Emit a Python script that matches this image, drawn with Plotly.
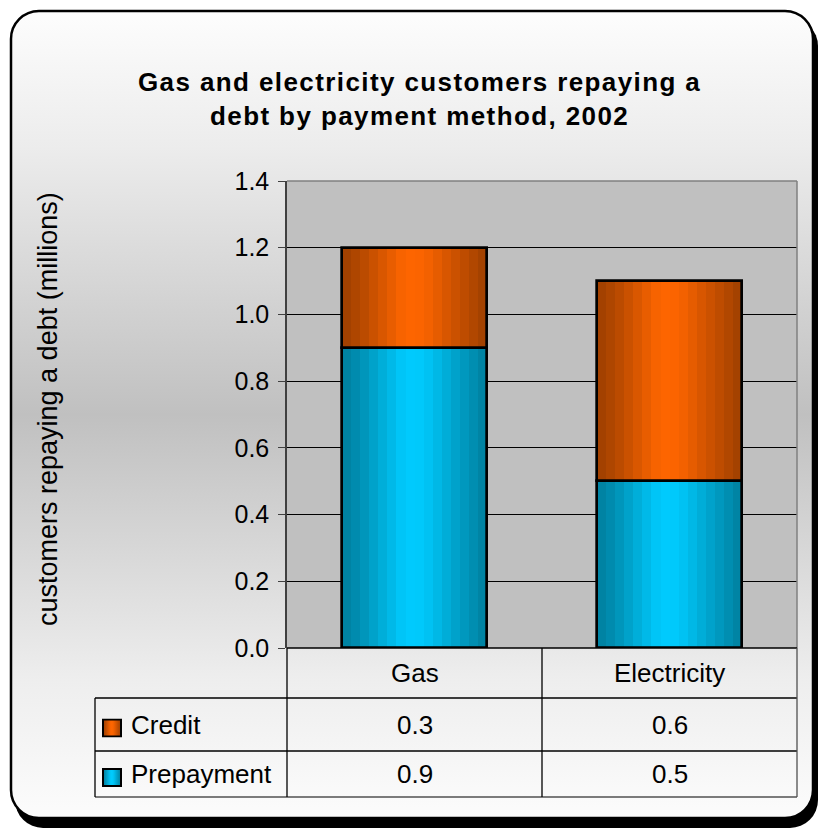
import base64
import plotly.graph_objects as go

# ---- data -------------------------------------------------------------
categories = ["Gas", "Electricity"]
prepayment = [0.9, 0.5]
credit = [0.3, 0.6]
y_ticks = [0.0, 0.2, 0.4, 0.6, 0.8, 1.0, 1.2, 1.4]

TITLE_LINES = ["Gas and electricity customers repaying a", "debt by payment method, 2002"]
Y_TITLE = "customers repaying a debt (millions)"

# ---- page geometry (pixels) -----------------------------------------
W, H = 819, 829
PLOT_L, PLOT_R, PLOT_T, PLOT_B = 287, 797, 181, 648
FONT = "Liberation Sans, Arial, sans-serif"


def xp(px):
    return (px - PLOT_L) / (PLOT_R - PLOT_L)


def yp(py):
    return (PLOT_B - py) / (PLOT_B - PLOT_T)


# horizontal cylinder-like shading across each bar: (position, brightness)
SHADE = [(0.0, 0.62), (0.12, 0.70), (0.28, 0.85), (0.42, 0.98), (0.5, 1.0),
         (0.6, 0.95), (0.75, 0.82), (0.9, 0.70), (1.0, 0.62)]
ORANGE = (255, 102, 0)
BLUE = (0, 204, 255)
N_STRIPS = 16
BAR_W = 0.565


def shade(t):
    for (t0, f0), (t1, f1) in zip(SHADE[:-1], SHADE[1:]):
        if t0 <= t <= t1:
            return f0 + (f1 - f0) * (t - t0) / (t1 - t0)
    return SHADE[-1][1]


def tone(rgb, f):
    return "rgb(%d,%d,%d)" % tuple(round(c * f) for c in rgb)


def svg_uri(svg):
    return "data:image/svg+xml;base64," + base64.b64encode(svg.encode()).decode()


fig = go.Figure()

series = [
    ("Prepayment", prepayment, [0.0] * len(prepayment), BLUE),
    ("Credit", credit, prepayment, ORANGE),
]

for name, vals, base, rgb in series:
    step = BAR_W / N_STRIPS
    for k in range(N_STRIPS):
        t = (k + 0.5) / N_STRIPS
        fig.add_trace(go.Bar(
            x=categories, y=vals, base=base,
            width=step * 1.1, offset=-BAR_W / 2 + k * step,
            marker=dict(color=tone(rgb, shade(t)), line=dict(width=0)),
            showlegend=False, hoverinfo="skip",
        ))
    # outline of the whole segment
    fig.add_trace(go.Bar(
        x=categories, y=vals, base=base,
        width=BAR_W, offset=-BAR_W / 2,
        marker=dict(color="rgba(0,0,0,0)", line=dict(color="black", width=2.7)),
        name=name, showlegend=False,
        hovertemplate=name + ": %{y:.1f}<extra></extra>",
    ))

# ---- background: rounded panel with vertical grey gradient and shadow --
bg_svg = f"""<svg xmlns="http://www.w3.org/2000/svg" width="{W}" height="{H}" viewBox="0 0 {W} {H}">
<defs><linearGradient id="g" x1="0" y1="0" x2="0" y2="1">
<stop offset="0" stop-color="#FDFDFD"/><stop offset="0.17" stop-color="#ECECEC"/>
<stop offset="0.5" stop-color="#C0C0C0"/><stop offset="0.83" stop-color="#EEEEEE"/>
<stop offset="1" stop-color="#FCFCFC"/></linearGradient></defs>
<rect x="15" y="18" width="803" height="810" rx="28" ry="28" fill="#000"/>
<rect x="11" y="11" width="802" height="807" rx="28" ry="28" fill="url(#g)" stroke="#000" stroke-width="2.5"/>
</svg>"""

images = [dict(
    source=svg_uri(bg_svg), xref="paper", yref="paper",
    x=xp(0), y=yp(0), sizex=W / (PLOT_R - PLOT_L), sizey=H / (PLOT_B - PLOT_T),
    xanchor="left", yanchor="top", sizing="stretch", layer="below",
)]


def key_svg(rgb):
    stops = "".join(
        f'<stop offset="{t}" stop-color="{tone(rgb, f)}"/>' for t, f in SHADE
    )
    return (f'<svg xmlns="http://www.w3.org/2000/svg" width="20" height="19" viewBox="0 0 20 19">'
            f'<defs><linearGradient id="k" x1="0" y1="0" x2="1" y2="0">{stops}</linearGradient></defs>'
            f'<rect x="1" y="1" width="18" height="17" fill="url(#k)" stroke="#000" stroke-width="2"/></svg>')


# ---- data table below the plot ----------------------------------------
COL_X = [287, 542, 797]
ROW_Y = [648, 698, 751, 797]
TABLE_L = 95
rows = [("Credit", credit, ORANGE), ("Prepayment", prepayment, BLUE)]

shapes = [
    # plot area fill
    dict(type="rect", xref="paper", yref="paper", x0=0, x1=1, y0=0, y1=1,
         fillcolor="#C0C0C0", line=dict(width=0), layer="below"),
    # plot area top / right border
    dict(type="line", xref="paper", yref="paper", x0=0, x1=1, y0=1, y1=1,
         line=dict(color="#808080", width=1.5)),
    dict(type="line", xref="paper", yref="paper", x0=1, x1=1, y0=0, y1=1,
         line=dict(color="#808080", width=1.5)),
]


def hline(py, x0, x1, color="black"):
    shapes.append(dict(type="line", xref="paper", yref="paper",
                       x0=xp(x0), x1=xp(x1), y0=yp(py), y1=yp(py),
                       line=dict(color=color, width=1.3)))


def vline(px, y0, y1, color="black"):
    shapes.append(dict(type="line", xref="paper", yref="paper",
                       x0=xp(px), x1=xp(px), y0=yp(y0), y1=yp(y1),
                       line=dict(color=color, width=1.3)))


hline(ROW_Y[0], COL_X[0], COL_X[2])
hline(ROW_Y[1], TABLE_L, COL_X[2])
hline(ROW_Y[2], TABLE_L, COL_X[2])
hline(ROW_Y[3], TABLE_L, COL_X[2], "#505050")
vline(TABLE_L, ROW_Y[1], ROW_Y[3])
vline(COL_X[0], ROW_Y[0], ROW_Y[3])
vline(COL_X[1], ROW_Y[0], ROW_Y[3])
vline(COL_X[2], ROW_Y[0], ROW_Y[3], "#505050")

annotations = []
text_font = dict(family=FONT, size=26, color="black")
col_centers = [(COL_X[i] + COL_X[i + 1]) / 2 for i in range(len(categories))]

for cx, cat in zip(col_centers, categories):
    annotations.append(dict(x=xp(cx), y=yp((ROW_Y[0] + ROW_Y[1]) / 2), xref="paper", yref="paper",
                            text=cat, showarrow=False, font=text_font,
                            xanchor="center", yanchor="middle"))

for r, (label, vals, rgb) in enumerate(rows):
    y_top, y_bot = ROW_Y[r + 1], ROW_Y[r + 2]
    cy = (y_top + y_bot) / 2
    annotations.append(dict(x=xp(129), y=yp(cy), xref="paper", yref="paper",
                            text=label, showarrow=False, font=text_font,
                            xanchor="left", yanchor="middle"))
    for cx, v in zip(col_centers, vals):
        annotations.append(dict(x=xp(cx), y=yp(cy), xref="paper", yref="paper",
                                text=f"{v:.1f}", showarrow=False, font=text_font,
                                xanchor="center", yanchor="middle"))
    images.append(dict(source=svg_uri(key_svg(rgb)), xref="paper", yref="paper",
                       x=xp(102), y=yp(cy - 6), sizex=20 / (PLOT_R - PLOT_L),
                       sizey=19 / (PLOT_B - PLOT_T), xanchor="left", yanchor="top",
                       sizing="stretch", layer="above"))

# ---- titles -------------------------------------------------------------
title_html = "<br>".join(
    f'<span style="letter-spacing:1.4px"><b>{line}</b></span>' for line in TITLE_LINES
)
annotations.append(dict(x=xp(419), y=yp(99), xref="paper", yref="paper",
                        text=title_html, showarrow=False,
                        font=dict(family=FONT, size=26, color="black"),
                        xanchor="center", yanchor="middle"))
annotations.append(dict(x=xp(48), y=yp(409), xref="paper", yref="paper",
                        text=Y_TITLE, showarrow=False, textangle=-90,
                        font=dict(family=FONT, size=27, color="black"),
                        xanchor="center", yanchor="middle"))

fig.update_layout(
    width=W, height=H,
    margin=dict(l=PLOT_L, r=W - PLOT_R, t=PLOT_T, b=H - PLOT_B, autoexpand=False),
    paper_bgcolor="white", plot_bgcolor="rgba(0,0,0,0)",
    barmode="overlay", bargap=0,
    showlegend=False,
    shapes=shapes, annotations=annotations, images=images,
    xaxis=dict(type="category", range=[-0.5, len(categories) - 0.5],
               showticklabels=False, ticks="", showgrid=False,
               showline=False, zeroline=False, fixedrange=True),
    yaxis=dict(range=[0, 1.4], tickvals=y_ticks,
               ticktext=[f"{v:.1f}" for v in y_ticks],
               ticks="outside", ticklen=7, tickcolor="#404040", tickwidth=1.3,
               showline=True, linecolor="#404040", linewidth=1.5,
               showgrid=True, gridcolor="black", gridwidth=1,
               zeroline=False, ticklabelstandoff=4,
               tickfont=dict(family=FONT, size=25, color="black"),
               fixedrange=True),
)

fig.write_html("out.html")
